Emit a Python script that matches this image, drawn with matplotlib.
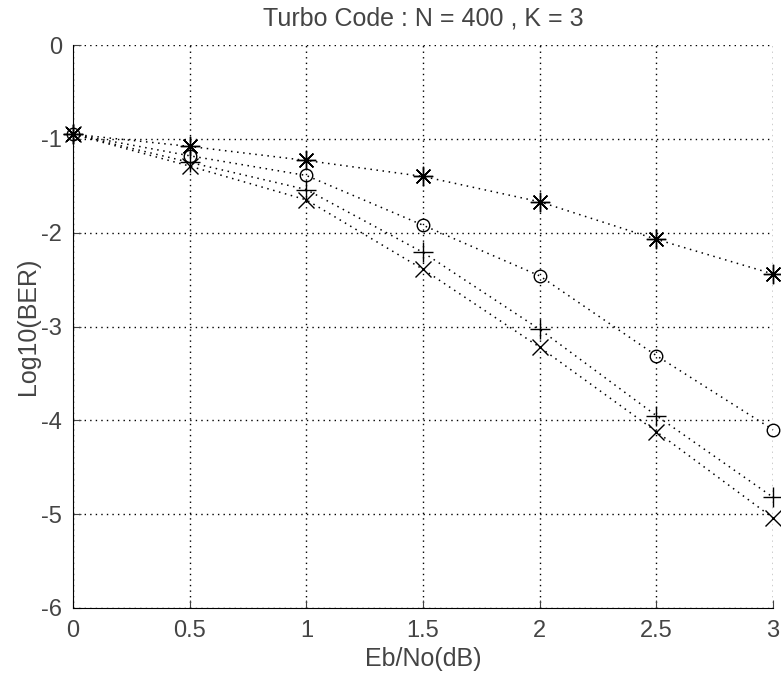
import numpy as np
import matplotlib.pyplot as plt

plt.rcParams['font.family'] = ['Liberation Sans', 'DejaVu Sans']
plt.rcParams['axes.unicode_minus'] = False

ebno = [0, 0.5, 1, 1.5, 2, 2.5, 3]
ber_star = [-0.95, -1.08, -1.23, -1.40, -1.67, -2.07, -2.44]
ber_circ = [-0.95, -1.18, -1.39, -1.92, -2.46, -3.31, -4.10]
ber_plus = [-0.95, -1.25, -1.54, -2.21, -3.03, -3.95, -4.82]
ber_x = [-0.95, -1.29, -1.65, -2.39, -3.22, -4.12, -5.04]

fig = plt.figure(figsize=(7.81, 6.73), dpi=100)
ax = fig.add_axes([0.0935, 0.0966, 0.8963, 0.8364])

for y, m, ms in [(ber_star, (8, 2, 0), 14), (ber_circ, 'o', 9),
                 (ber_plus, '+', 14), (ber_x, 'x', 12)]:
    ax.plot(ebno, y, color='k', linestyle=(0, (1, 3)), linewidth=1.1,
            marker=m, markersize=ms, markerfacecolor='none',
            markeredgecolor='k', markeredgewidth=1.0, clip_on=False)

ax.set_xlim(0, 3)
ax.set_ylim(-6, 0)
ax.set_xticks(ebno)
ax.set_xticklabels(['0', '0.5', '1', '1.5', '2', '2.5', '3'])
ax.set_yticks(range(-6, 1))
ax.grid(True, color='k', linestyle=(0, (1, 3)), linewidth=1.0)
ax.spines['top'].set_visible(False)
ax.spines['right'].set_visible(False)
ax.tick_params(direction='in', length=6, labelsize=17, colors='#444444')
ax.tick_params(axis='x', pad=9)
ax.tick_params(axis='y', pad=8)
ax.set_xlabel('Eb/No(dB)', fontsize=18, color='#444444', labelpad=3)
ax.set_ylabel('Log10(BER)', fontsize=18, color='#444444', labelpad=1)
ax.set_title('Turbo Code : N = 400 , K = 3', fontsize=18, color='#444444', pad=14)

fig.savefig('out.png', dpi=100)
